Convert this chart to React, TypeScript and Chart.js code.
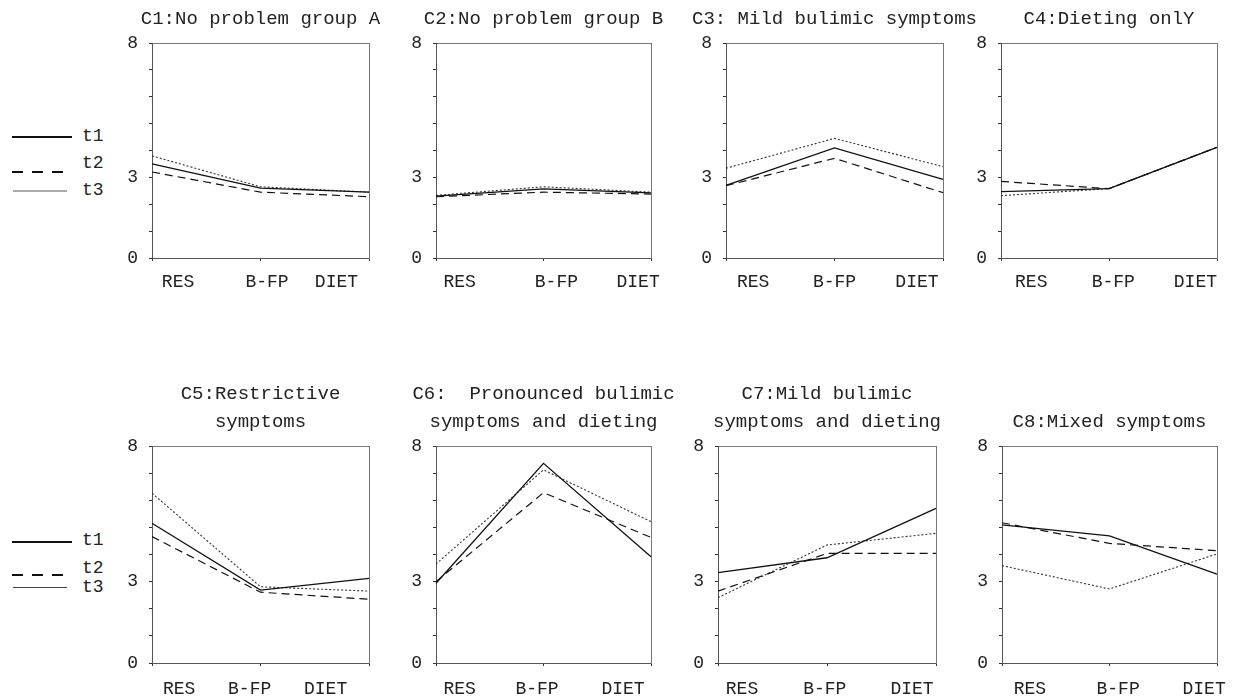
import React, { useEffect, useRef } from "react";
import { Chart, registerables } from "chart.js";

Chart.register(...registerables);

// ---------- data ----------
const CATEGORIES = ["RES", "B-FP", "DIET"];
const SERIES_NAMES = ["t1", "t2", "t3"];
const Y_TICK_LABELS = [0, 3, 8];

const TITLES: (string | string[])[] = [
  "C1:No problem group A",
  "C2:No problem group B",
  "C3: Mild bulimic symptoms",
  "C4:Dieting onlY",
  ["C5:Restrictive", "symptoms"],
  ["C6:  Pronounced bulimic", "symptoms and dieting"],
  ["C7:Mild bulimic", "symptoms and dieting"],
  "C8:Mixed symptoms",
];

// values per cluster: [RES, B-FP, DIET]
const T1 = [
  [3.5, 2.6, 2.45],
  [2.3, 2.57, 2.42],
  [2.7, 4.1, 2.93],
  [2.47, 2.58, 4.12],
  [5.15, 2.69, 3.12],
  [2.94, 7.36, 3.92],
  [3.33, 3.88, 5.7],
  [5.09, 4.69, 3.28],
];
const T2 = [
  [3.2, 2.45, 2.28],
  [2.28, 2.45, 2.38],
  [2.69, 3.71, 2.43],
  [2.85, 2.58, 4.12],
  [4.66, 2.61, 2.35],
  [3.0, 6.28, 4.63],
  [2.65, 4.04, 4.04],
  [5.17, 4.41, 4.14],
];
const T3 = [
  [3.8, 2.65, 2.45],
  [2.33, 2.65, 2.45],
  [3.34, 4.45, 3.4],
  [2.32, 2.58, 4.12],
  [6.26, 2.81, 2.65],
  [3.65, 7.12, 5.21],
  [2.41, 4.35, 4.78],
  [3.59, 2.73, 4.02],
];

// ---------- layout (positions only) ----------
const PANELS = [
  { left: 152, right: 369, top: 43, bottom: 258, labelPos: [0.12, 0.53, 0.85], labelPad: 10 },
  { left: 436, right: 651, top: 43, bottom: 258, labelPos: [0.11, 0.56, 0.94], labelPad: 10 },
  { left: 726, right: 943, top: 43, bottom: 258, labelPos: [0.125, 0.5, 0.88], labelPad: 10 },
  { left: 1001, right: 1217, top: 43, bottom: 258, labelPos: [0.14, 0.52, 0.9], labelPad: 10 },
  { left: 152, right: 369, top: 446, bottom: 663, labelPos: [0.125, 0.45, 0.8], labelPad: 12 },
  { left: 436, right: 651, top: 446, bottom: 663, labelPos: [0.11, 0.47, 0.87], labelPad: 12 },
  { left: 718, right: 936, top: 446, bottom: 663, labelPos: [0.11, 0.49, 0.89], labelPad: 12 },
  { left: 1002, right: 1217, top: 446, bottom: 663, labelPos: [0.13, 0.54, 0.94], labelPad: 12 },
];

const FONT = "'Liberation Mono', 'Courier New', monospace";
const TEXT = "#222";
const SIDE = 40;
const PAD = 20;
const TITLE_LINE = 28;
const TITLE_GAP = 10;
const X_TICK_H = 3;
const X_LABEL_H = 40;

function Panel({ index }: { index: number }) {
  const ref = useRef<HTMLCanvasElement | null>(null);
  const p = PANELS[index];
  const title = TITLES[index];
  const lines = Array.isArray(title) ? title.length : 1;
  const titleH = lines * TITLE_LINE + TITLE_GAP;
  const pw = p.right - p.left;
  const ph = p.bottom - p.top;
  const width = pw + 2 * (SIDE + PAD);
  const height = titleH + ph + X_TICK_H + X_LABEL_H;
  const left = p.left - SIDE - PAD;
  const top = p.top - titleH;

  useEffect(() => {
    if (!ref.current) return;
    const chart = new Chart(ref.current, {
      type: "line",
      data: {
        labels: CATEGORIES,
        datasets: [
          {
            label: SERIES_NAMES[0],
            data: T1[index],
            borderColor: "#111",
            borderWidth: 1.3,
            pointRadius: 0,
            tension: 0,
            fill: false,
          },
          {
            label: SERIES_NAMES[1],
            data: T2[index],
            borderColor: "#111",
            borderWidth: 1.2,
            borderDash: [8, 5],
            pointRadius: 0,
            tension: 0,
            fill: false,
          },
          {
            label: SERIES_NAMES[2],
            data: T3[index],
            borderColor: "#333",
            borderWidth: 1.1,
            borderDash: [2, 2],
            pointRadius: 0,
            tension: 0,
            fill: false,
          },
        ],
      },
      options: {
        responsive: false,
        animation: false,
        devicePixelRatio: 1,
        layout: { padding: { left: PAD, right: PAD, top: 0, bottom: 0 } },
        plugins: {
          legend: { display: false },
          tooltip: { enabled: false },
          title: {
            display: true,
            text: title,
            color: TEXT,
            font: { family: FONT, size: 19, weight: "normal", lineHeight: TITLE_LINE + "px" },
            padding: { top: 0, bottom: TITLE_GAP },
          },
        },
        scales: {
          x: {
            type: "category",
            position: "bottom",
            offset: false,
            grid: { display: true, drawOnChartArea: false, drawTicks: true, tickLength: 3, color: "#333" },
            border: { display: true, color: "#555", width: 1 },
            ticks: { display: false },
            afterFit: (s: any) => {
              s.height = X_TICK_H;
            },
          },
          xl: {
            type: "linear",
            position: "bottom",
            weight: 1,
            min: 0,
            max: 2,
            grid: { display: false, drawTicks: false },
            border: { display: false },
            afterBuildTicks: (s: any) => {
              s.ticks = p.labelPos.map((f) => ({ value: f * 2 }));
            },
            ticks: {
              autoSkip: false,
              maxRotation: 0,
              minRotation: 0,
              padding: p.labelPad,
              color: TEXT,
              font: { family: FONT, size: 18 },
              callback: (_v: any, i: number) => CATEGORIES[i],
            },
            afterFit: (s: any) => {
              s.height = X_LABEL_H;
            },
          },
          x2: {
            type: "category",
            position: "top",
            offset: false,
            grid: { display: false },
            border: { display: true, color: "#777", width: 1 },
            ticks: { display: false },
            afterFit: (s: any) => {
              s.height = 0;
            },
          },
          y: {
            type: "linear",
            position: "left",
            min: 0,
            max: 8,
            grid: { drawOnChartArea: false, drawTicks: true, tickLength: 3, color: "#333" },
            border: { display: true, color: "#555", width: 1 },
            ticks: {
              stepSize: 1,
              autoSkip: false,
              padding: 11,
              color: TEXT,
              font: { family: FONT, size: 18 },
              callback: (v: any) => (Y_TICK_LABELS.includes(Number(v)) ? String(v) : ""),
            },
            afterFit: (s: any) => {
              s.width = SIDE;
            },
          },
          y2: {
            type: "linear",
            position: "right",
            min: 0,
            max: 8,
            grid: { display: false },
            border: { display: true, color: "#777", width: 1 },
            ticks: { display: false },
            afterFit: (s: any) => {
              s.width = SIDE;
            },
          },
        },
      } as any,
    });
    return () => chart.destroy();
  }, [index]);

  return (
    <canvas
      ref={ref}
      width={width}
      height={height}
      style={{ position: "absolute", left, top, width, height }}
    />
  );
}

type LegendRow = { lineY: number[]; textY: number[]; t3Color: string; t3Width: number };
const LEGENDS: LegendRow[] = [
  { lineY: [136, 171, 190], textY: [136, 163, 190], t3Color: "#aaa", t3Width: 2 },
  { lineY: [541, 574, 587], textY: [540, 568, 587], t3Color: "#444", t3Width: 1 },
];

function Legend({ row }: { row: LegendRow }) {
  const textStyle = (y: number): React.CSSProperties => ({
    position: "absolute",
    left: 82,
    top: y - 11,
    height: 22,
    lineHeight: "22px",
    fontFamily: FONT,
    fontSize: 18,
    color: TEXT,
  });
  return (
    <>
      <div style={{ position: "absolute", left: 12, top: row.lineY[0], width: 60, height: 1.5, background: "#111" }} />
      <div style={textStyle(row.textY[0])}>{SERIES_NAMES[0]}</div>
      <div
        style={{
          position: "absolute",
          left: 12,
          top: row.lineY[1],
          width: 51,
          height: 1.5,
          background: "repeating-linear-gradient(to right, #111 0px, #111 11px, transparent 11px, transparent 20px)",
        }}
      />
      <div style={textStyle(row.textY[1])}>{SERIES_NAMES[1]}</div>
      <div
        style={{
          position: "absolute",
          left: 13,
          top: row.lineY[2],
          width: 54,
          height: row.t3Width,
          background: row.t3Color,
        }}
      />
      <div style={textStyle(row.textY[2])}>{SERIES_NAMES[2]}</div>
    </>
  );
}

export default function App() {
  return (
    <div
      style={{
        position: "absolute",
        left: 0,
        top: 0,
        width: 1234,
        height: 699,
        overflow: "hidden",
        background: "#fff",
      }}
    >
      {LEGENDS.map((r, i) => (
        <Legend key={i} row={r} />
      ))}
      {PANELS.map((_, i) => (
        <Panel key={i} index={i} />
      ))}
    </div>
  );
}
